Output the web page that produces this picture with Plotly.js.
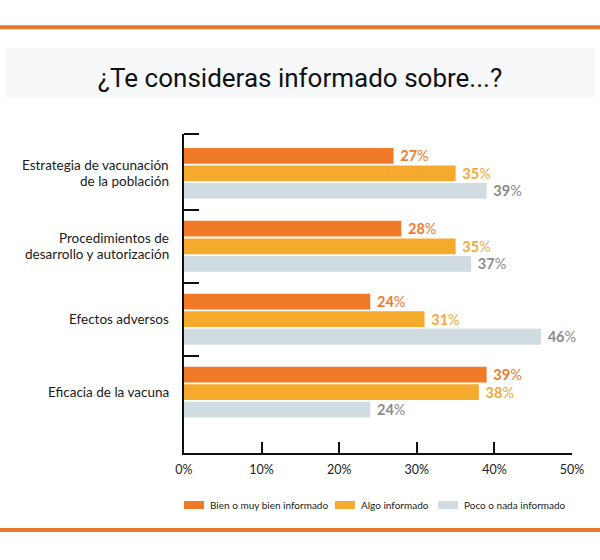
<!DOCTYPE html>
<html>
<head>
<meta charset="utf-8">
<script src="https://cdn.plot.ly/plotly-3.0.1.min.js"></script>
<style>
  html, body { margin: 0; padding: 0; background: #ffffff; }
  #chart { width: 600px; height: 560px; }
</style>
</head>
<body>
<div id="chart"></div>
<script>
// Survey topics, top to bottom
const categories = [
  "Estrategia de vacunación<br>de la población",
  "Procedimientos de<br>desarrollo y autorización",
  "Efectos adversos",
  "Eficacia de la vacuna"
];
const categoryPos = [0, 1, 2, 3];

// Share of respondents (%) per answer
const bienInformado = [27, 28, 24, 39];
const algoInformado = [35, 35, 31, 38];
const pocoInformado = [39, 37, 46, 24];

const seriesNames = ["Bien o muy bien informado", "Algo informado", "Poco o nada informado"];

const xTickVals = [0, 10, 20, 30, 40, 50];
const xTickText = ["0%", "10%", "20%", "30%", "40%", "50%"];

const barColors = ["#f07a28", "#f5aa2d", "#d0dbe2"];
const labelColors = ["#ee7a2e", "#f2a93a", "#8a8a8a"];

function series(values, i) {
  return {
    type: "bar",
    orientation: "h",
    name: seriesNames[i],
    x: values,
    y: categoryPos,
    marker: { color: barColors[i] },
    texttemplate: "\u00a0<b>%{x}</b>%",
    textposition: "outside",
    cliponaxis: false,
    constraintext: "none",
    textfont: { family: "Lato", size: 14.5, color: labelColors[i] },
    hoverinfo: "skip",
    showlegend: false
  };
}

const data = [
  series(bienInformado, 0),
  series(algoInformado, 1),
  series(pocoInformado, 2)
];

// Category labels: one annotation per line so the lines sit close together
const LABEL_LINE_GAP = 16;
const annotations = [];
categories.forEach((label, i) => {
  const lines = label.split("<br>");
  lines.forEach((line, k) => {
    annotations.push({
      xref: "paper", yref: "y",
      x: 0, y: categoryPos[i],
      xanchor: "right", yanchor: "middle",
      xshift: -14,
      yshift: ((lines.length - 1) / 2 - k) * LABEL_LINE_GAP,
      text: line,
      showarrow: false,
      borderpad: 0,
      font: { family: "Lato", size: 13.5, color: "#1a1a1a" }
    });
  });
});

// Legend row below the axis: colour swatch followed by its label
const legendSwatchX = [0, 0.389, 0.655];
const legendSwatchW = 0.0515;
const legendY0 = -0.1755, legendY1 = -0.1505;
const shapes = [
  // faint band behind the title
  { type: "rect", xref: "paper", yref: "paper", x0: -0.46, x1: 1.06, y0: 1.113, y1: 1.27,
    fillcolor: "#f6f8f9", line: { width: 0 }, layer: "below" },
  // orange rules at top and bottom
  { type: "line", xref: "paper", yref: "paper", x0: -0.48, x1: 1.08, y0: 1.335, y1: 1.335,
    line: { color: "#e8772e", width: 4 } },
  { type: "line", xref: "paper", yref: "paper", x0: -0.48, x1: 1.08, y0: -0.241, y1: -0.241,
    line: { color: "#e8772e", width: 4 } }
];
seriesNames.forEach((name, i) => {
  shapes.push({
    type: "rect", xref: "paper", yref: "paper",
    x0: legendSwatchX[i], x1: legendSwatchX[i] + legendSwatchW,
    y0: legendY0, y1: legendY1,
    fillcolor: barColors[i], line: { width: 0 }
  });
  annotations.push({
    xref: "paper", yref: "paper",
    x: legendSwatchX[i] + legendSwatchW + 0.01, y: (legendY0 + legendY1) / 2,
    xanchor: "left", yanchor: "middle",
    text: name, showarrow: false,
    font: { family: "Lato", size: 10, color: "#1a1a1a" }
  });
});

const layout = {
  width: 600,
  height: 560,
  margin: { l: 184, r: 28, t: 134, b: 107 },
  paper_bgcolor: "#ffffff",
  plot_bgcolor: "#ffffff",
  font: { family: "Lato", color: "#1a1a1a" },
  barmode: "group",
  bargap: 0.277,
  bargroupgap: 0.1,
  showlegend: false,
  title: {
    text: "¿Te consideras informado sobre...?",
    font: { family: "Roboto", size: 26, color: "#111111" },
    x: 0.5,
    xanchor: "center",
    yref: "container",
    y: 1 - 78 / 560,
    yanchor: "middle"
  },
  xaxis: {
    range: [0, 50],
    tickvals: xTickVals,
    ticktext: xTickText,
    ticks: "inside",
    ticklen: 11,
    tickwidth: 2,
    tickcolor: "#111111",
    showgrid: false,
    zeroline: false,
    showline: true,
    linecolor: "#111111",
    linewidth: 2,
    ticklabelstandoff: 4,
    tickfont: { family: "Lato", size: 12.5, color: "#222222" },
    fixedrange: true
  },
  yaxis: {
    range: [3.835, -0.54],
    tickvals: categoryPos,
    showticklabels: false,
    ticks: "",
    showgrid: false,
    zeroline: false,
    showline: true,
    linecolor: "#111111",
    linewidth: 2,
    minor: {
      tickmode: "array",
      tickvals: [-0.54, 0.5, 1.5, 2.5],
      ticks: "inside",
      ticklen: 15,
      tickwidth: 2,
      tickcolor: "#111111",
      showgrid: false
    },
    fixedrange: true
  },
  shapes: shapes,
  annotations: annotations
};

Plotly.newPlot("chart", data, layout, { displayModeBar: false, staticPlot: true });
</script>
</body>
</html>
